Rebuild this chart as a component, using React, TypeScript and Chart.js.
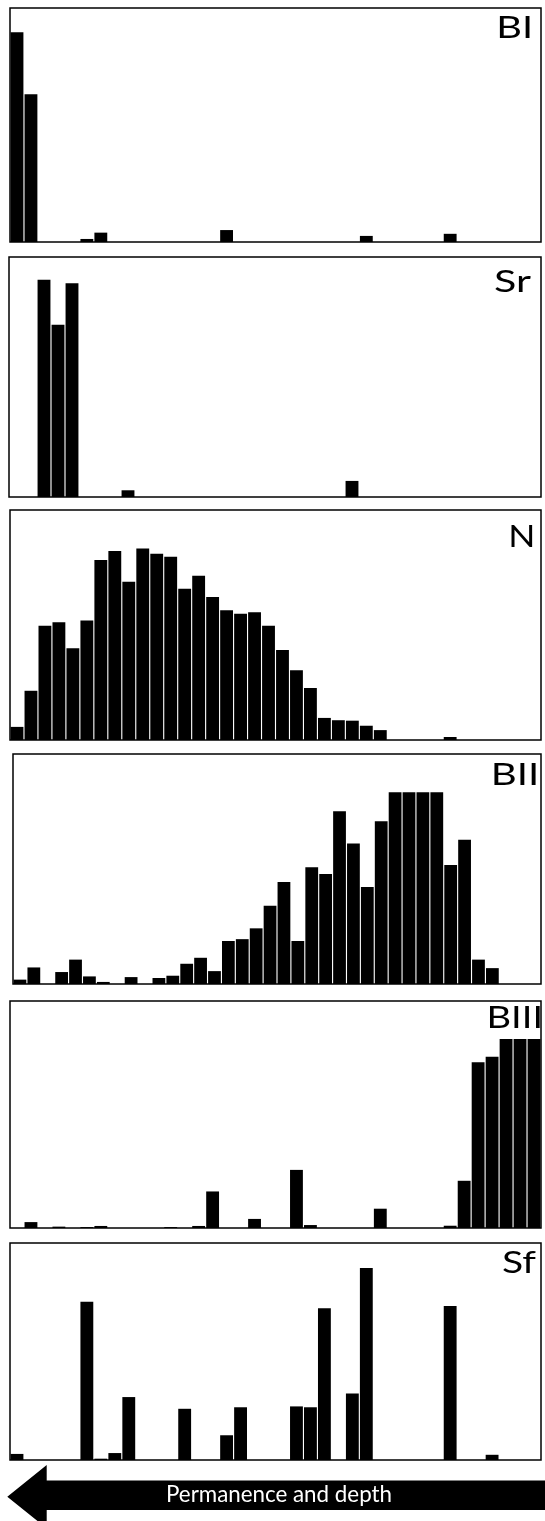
import React, { useEffect, useRef } from "react";
import { Chart, registerables } from "chart.js";

Chart.register(...registerables);

// 38 bins along the "permanence and depth" gradient
const bins = [
  "1", "2", "3", "4", "5", "6", "7", "8", "9", "10",
  "11", "12", "13", "14", "15", "16", "17", "18", "19", "20",
  "21", "22", "23", "24", "25", "26", "27", "28", "29", "30",
  "31", "32", "33", "34", "35", "36", "37", "38",
];

// relative frequency (% of panel height)
const valuesBI = [89.6, 63.1, 0, 0, 0, 1.3, 4.0, 0, 0, 0, 0, 0, 0, 0, 0, 5.1, 0, 0, 0, 0, 0, 0, 0, 0, 0, 2.6, 0, 0, 0, 0, 0, 3.5, 0, 0, 0, 0, 0, 0];
const valuesSr = [0, 0, 90.5, 71.8, 89.1, 0, 0, 0, 2.8, 0, 0, 0, 0, 0, 0, 0, 0, 0, 0, 0, 0, 0, 0, 0, 6.7, 0, 0, 0, 0, 0, 0, 0, 0, 0, 0, 0, 0, 0];
const valuesN = [5.7, 21.4, 49.7, 51.2, 39.9, 52.0, 78.3, 82.2, 68.8, 83.3, 81.0, 79.7, 65.8, 71.4, 62.2, 56.4, 54.9, 55.5, 49.7, 39.1, 30.3, 22.6, 9.6, 8.6, 8.4, 6.2, 4.3, 0, 0, 0, 0, 1.3, 0, 0, 0, 0, 0, 0];
const valuesBII = [1.9, 7.2, 0, 5.2, 10.6, 3.3, 0.9, 0, 3.0, 0, 2.6, 3.6, 8.8, 11.4, 5.6, 18.7, 19.5, 24.2, 34.0, 44.3, 18.7, 50.8, 47.8, 75.1, 61.1, 42.2, 70.8, 83.4, 83.4, 83.4, 83.4, 51.7, 62.7, 10.6, 6.9, 0, 0, 0];
const valuesBIII = [0, 2.6, 0, 0.6, 0, 0.4, 0.9, 0, 0, 0, 0, 0.4, 0, 0.9, 16.1, 0, 0, 4.0, 0, 0, 25.6, 1.3, 0, 0, 0, 0, 8.5, 0, 0, 0, 0, 1.0, 20.8, 73.0, 75.4, 83.3, 83.3, 83.3];
const valuesSf = [2.8, 0, 0, 0, 0, 72.9, 0.6, 3.2, 29.0, 0, 0, 0, 23.6, 0, 0, 11.4, 24.3, 0, 0, 0, 24.7, 24.3, 69.9, 0, 30.7, 88.5, 0, 0, 0, 0, 0, 71.0, 0, 0, 2.4, 0, 0, 0];

const panelLabels = ["BI", "Sr", "N", "BII", "BIII", "Sf"];
const panelValues = [valuesBI, valuesSr, valuesN, valuesBII, valuesBIII, valuesSf];
const arrowText = "Permanence and depth";

// layout (px) for each panel box and its label
const layouts = [
  { left: 10, top: 8, width: 531, height: 234, lx: 499, ly: 29.5, lw: 31 },
  { left: 9, top: 257, width: 532, height: 240, lx: 494, ly: 34.5, lw: 37 },
  { left: 10, top: 510, width: 531, height: 230, lx: 510.5, ly: 36.7, lw: 22.5 },
  { left: 13, top: 754, width: 528, height: 230, lx: 493.5, ly: 31, lw: 42.6 },
  { left: 10, top: 1001, width: 531, height: 227, lx: 489, ly: 26.7, lw: 51 },
  { left: 10, top: 1243, width: 531, height: 217, lx: 502, ly: 30, lw: 34.6 },
];

const PAD = 2;
const FONT = "Lato, 'Open Sans', sans-serif";

function PanelChart({ label, values, lay }: { label: string; values: number[]; lay: any }) {
  const ref = useRef<HTMLCanvasElement | null>(null);
  useEffect(() => {
    if (!ref.current) return;
    const boxPlugin = {
      id: "panelBox",
      afterDatasetsDraw(chart: any) {
        const { ctx, chartArea } = chart;
        ctx.save();
        ctx.strokeStyle = "#000";
        ctx.lineWidth = 1.5;
        ctx.strokeRect(chartArea.left, chartArea.top, chartArea.right - chartArea.left, chartArea.bottom - chartArea.top);
        ctx.restore();
      },
      afterDraw(chart: any) {
        const { ctx, chartArea } = chart;
        ctx.save();
        ctx.font = `30px ${FONT}`;
        ctx.textBaseline = "alphabetic";
        ctx.textAlign = "left";
        const m = ctx.measureText(label);
        const ink = m.actualBoundingBoxLeft + m.actualBoundingBoxRight;
        const s = ink > 0 ? lay.lw / ink : 1;
        ctx.translate(lay.lx - lay.left + chartArea.left, chartArea.top + lay.ly);
        ctx.scale(s, 1);
        ctx.fillStyle = "#000";
        ctx.fillText(label, m.actualBoundingBoxLeft, 0);
        ctx.restore();
      },
    };
    const chart = new Chart(ref.current, {
      type: "bar",
      data: {
        labels: bins,
        datasets: [
          {
            label,
            data: values,
            backgroundColor: "#000",
            borderWidth: 0,
            categoryPercentage: 1,
            barPercentage: 0.92,
          },
        ],
      },
      options: {
        responsive: false,
        animation: false,
        devicePixelRatio: 1,
        layout: { padding: PAD },
        plugins: { legend: { display: false }, tooltip: { enabled: false }, title: { display: false } },
        scales: {
          x: { display: false, type: "category" },
          y: { display: false, min: 0, max: 100 },
        },
      },
      plugins: [boxPlugin],
    } as any);
    return () => chart.destroy();
  }, [label, values, lay]);
  const w = lay.width + 2 * PAD;
  const h = lay.height + 2 * PAD;
  return (
    <canvas
      ref={ref}
      width={w}
      height={h}
      style={{ position: "absolute", left: lay.left - PAD, top: lay.top - PAD, width: w, height: h }}
    />
  );
}

export default function App() {
  return (
    <div
      style={{
        position: "absolute",
        left: 0,
        top: 0,
        width: 545,
        height: 1521,
        overflow: "hidden",
        background: "#fff",
      }}
    >
      {panelLabels.map((lab, i) => (
        <PanelChart key={lab} label={lab} values={panelValues[i]} lay={layouts[i]} />
      ))}
      <svg
        width={545}
        height={1521}
        style={{ position: "absolute", left: 0, top: 0, pointerEvents: "none" }}
      >
        <polygon
          points="7.3,1496.7 46.7,1465 46.7,1480.5 545,1480.5 545,1510 46.7,1510 46.7,1528.4"
          fill="#000"
        />
        <text
          x={279}
          y={1502}
          textAnchor="middle"
          fontFamily={FONT}
          fontSize={24}
          fill="#fff"
          textLength={226}
          lengthAdjust="spacingAndGlyphs"
        >
          {arrowText}
        </text>
      </svg>
    </div>
  );
}
